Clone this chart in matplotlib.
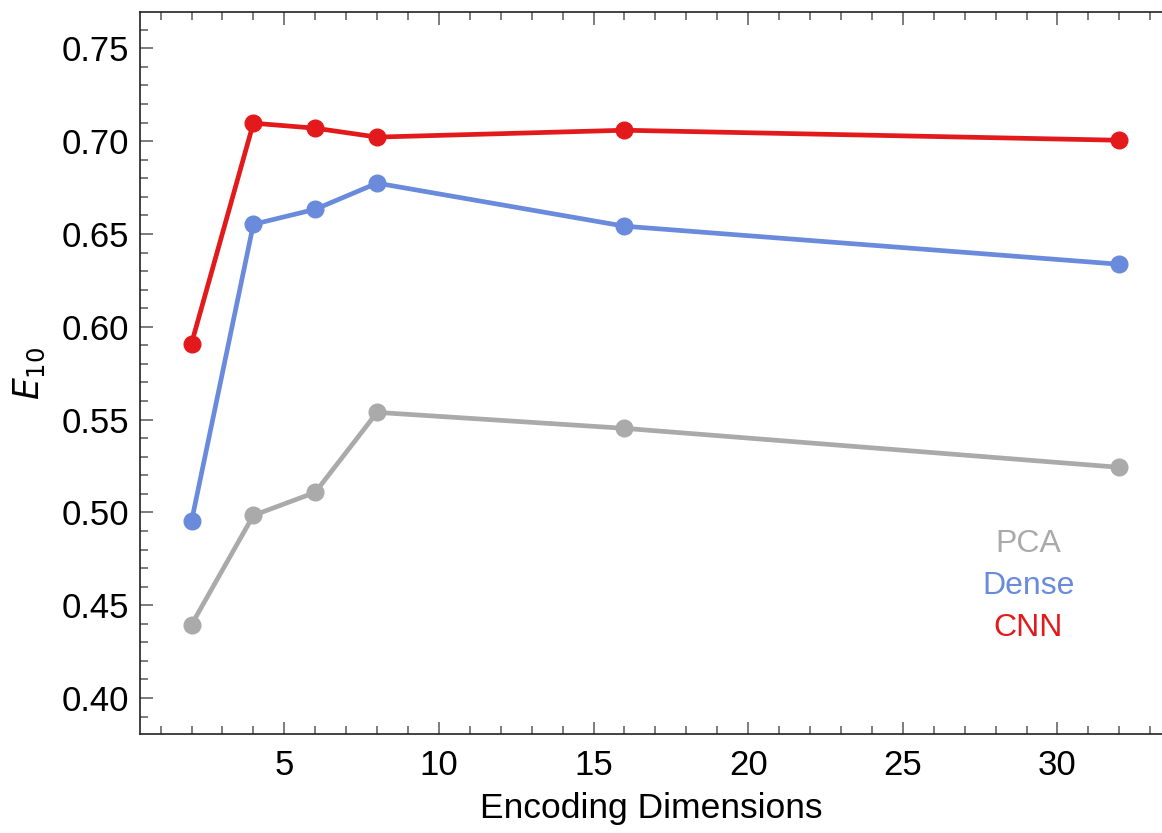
import matplotlib
matplotlib.use("Agg")
import matplotlib.pyplot as plt
from matplotlib.ticker import MultipleLocator

plt.rcParams['font.family'] = ['Liberation Sans', 'DejaVu Sans']

# data
dims = [2, 4, 6, 8, 16, 32]
pca = [0.4395, 0.4984, 0.5108, 0.5539, 0.5453, 0.5243]
dense = [0.4952, 0.6552, 0.6633, 0.6774, 0.6542, 0.6337]
cnn = [0.5910, 0.7097, 0.7070, 0.7022, 0.7059, 0.7005]

series = [
    ('PCA', pca, '#aaaaaa'),
    ('Dense', dense, '#6a8bdc'),
    ('CNN', cnn, '#e31a1c'),
]

fig = plt.figure(figsize=(11.62, 8.33), dpi=100)
ax = fig.add_axes([0.1205, 0.1188, 0.8795, 0.8668])

for name, vals, color in series:
    ax.plot(dims, vals, color=color, lw=3.4, marker='o', ms=12,
            solid_joinstyle='round', solid_capstyle='round')

ax.set_xlim(0.335, 33.38)
ax.set_ylim(0.3806, 0.7696)

ax.xaxis.set_major_locator(MultipleLocator(5))
ax.xaxis.set_minor_locator(MultipleLocator(1))
ax.yaxis.set_major_locator(MultipleLocator(0.05))
ax.yaxis.set_minor_locator(MultipleLocator(0.01))
ax.yaxis.set_major_formatter(matplotlib.ticker.FormatStrFormatter('%.2f'))

ax.tick_params(which='both', direction='in', top=True, right=False,
               color='#666666', width=1.2, labelsize=25)
ax.tick_params(axis='x', pad=11)
ax.tick_params(axis='y', pad=8)
ax.tick_params(which='major', length=9)
ax.tick_params(which='minor', length=6)

for side in ['left', 'bottom', 'top']:
    ax.spines[side].set_color('#222222')
    ax.spines[side].set_linewidth(1.2)
ax.spines['right'].set_visible(False)

ax.set_xlabel('Encoding Dimensions', fontsize=25.5, labelpad=7)
ax.set_ylabel('$E_{10}$', fontsize=25, labelpad=10)

# legend as coloured text
for i, (name, vals, color) in enumerate(series):
    ax.text(29.05, 0.4828 - i * 0.0225, name, color=color, fontsize=23,
            ha='center', va='center')

fig.savefig('out.png', dpi=100)
